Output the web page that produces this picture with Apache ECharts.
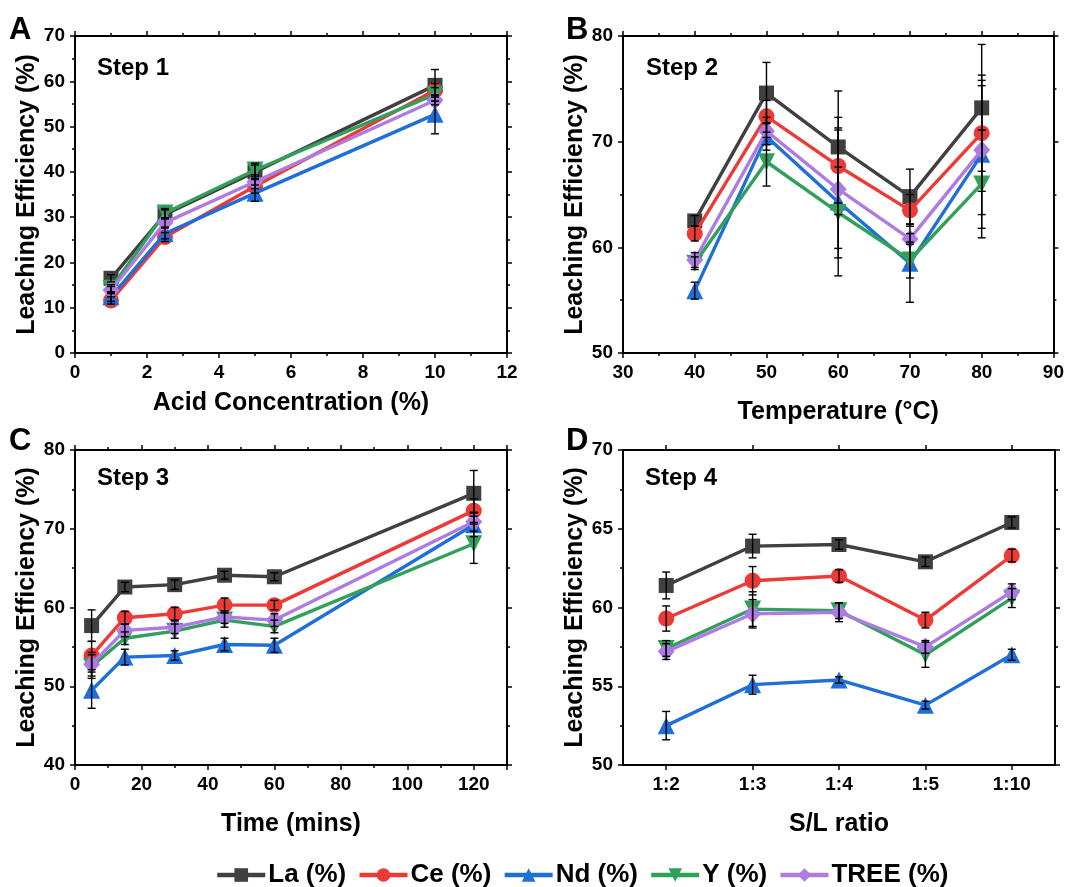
<!DOCTYPE html>
<html>
<head>
<meta charset="utf-8">
<script src="https://cdn.jsdelivr.net/npm/echarts@6/dist/echarts.min.js"></script>
<style>html,body{margin:0;padding:0;background:#fff;}#c{width:1067px;height:887px;}</style>
</head>
<body>
<div id="c"></div>
<script>
// ---------- DATA ----------
const elementNames = ['La (%)', 'Ce (%)', 'Nd (%)', 'Y (%)', 'TREE (%)'];

// Step 1: acid concentration (%)
const acidConc = [1, 2.5, 5, 10];
const step1La   = [16.5, 30.6, 40.0, 59.1];
const step1Ce   = [11.6, 25.6, 36.8, 58.0];
const step1Nd   = [12.4, 26.4, 35.3, 52.7];
const step1Y    = [14.3, 30.9, 40.4, 57.1];
const step1TREE = [13.9, 28.8, 37.8, 55.8];
const step1ErrLa   = [0.8, 1.0, 1.5, 3.5];
const step1ErrCe   = [0.8, 1.0, 1.5, 1.5];
const step1ErrNd   = [1.0, 1.2, 1.8, 4.3];
const step1ErrY    = [0.8, 1.0, 1.5, 1.5];
const step1ErrTREE = [0.8, 1.0, 1.5, 1.0];

// Step 2: temperature (°C)
const temperature = [40, 50, 60, 70, 80];
const step2La   = [62.5, 74.6, 69.5, 64.8, 73.2];
const step2Ce   = [61.3, 72.4, 67.7, 63.5, 70.8];
const step2Nd   = [55.9, 70.5, 64.3, 58.5, 68.8];
const step2Y    = [58.5, 68.1, 63.3, 58.8, 66.0];
const step2TREE = [58.8, 71.0, 65.5, 60.8, 69.2];
const step2ErrLa   = [0.5, 2.9, 5.3, 2.6, 6.0];
const step2ErrCe   = [0.7, 1.5, 4.6, 1.5, 5.5];
const step2ErrNd   = [0.8, 1.3, 7.0, 3.7, 7.0];
const step2ErrY    = [0.6, 2.3, 4.3, 1.7, 5.1];
const step2ErrTREE = [0.7, 1.3, 5.6, 0.5, 6.1];

// Step 3: time (mins)
const timeMins = [5, 15, 30, 45, 60, 120];
const step3La   = [57.7, 62.6, 62.9, 64.1, 63.9, 74.5];
const step3Ce   = [53.9, 58.7, 59.2, 60.3, 60.3, 72.3];
const step3Nd   = [49.5, 53.7, 53.9, 55.3, 55.2, 70.5];
const step3Y    = [52.5, 56.1, 57.0, 58.4, 57.6, 68.1];
const step3TREE = [52.8, 57.1, 57.5, 58.8, 58.4, 70.9];
const step3ErrLa   = [2.0, 0.6, 0.6, 0.5, 0.5, 2.9];
const step3ErrCe   = [1.8, 0.8, 0.8, 0.9, 0.6, 1.5];
const step3ErrNd   = [2.3, 1.0, 0.6, 0.8, 0.9, 1.5];
const step3ErrY    = [1.5, 0.8, 0.9, 0.9, 0.8, 2.5];
const step3ErrTREE = [1.5, 0.8, 0.8, 0.8, 0.8, 1.2];

// Step 4: S/L ratio
const slRatio = ['1:2', '1:3', '1:4', '1:5', '1:10'];
const step4La   = [61.4, 63.9, 64.0, 62.9, 65.4];
const step4Ce   = [59.3, 61.7, 62.0, 59.2, 63.3];
const step4Nd   = [52.5, 55.1, 55.4, 53.8, 57.0];
const step4Y    = [57.4, 59.9, 59.8, 57.0, 60.6];
const step4TREE = [57.2, 59.6, 59.7, 57.5, 61.0];
const step4ErrLa   = [0.85, 0.75, 0.3, 0.3, 0.35];
const step4ErrCe   = [0.8, 0.9, 0.4, 0.5, 0.4];
const step4ErrNd   = [0.9, 0.6, 0.2, 0.25, 0.35];
const step4ErrY    = [0.5, 1.1, 0.5, 0.8, 0.6];
const step4ErrTREE = [0.5, 0.9, 0.6, 0.4, 0.5];

// ---------- STYLE ----------
const FONT = '"Liberation Sans", Arial, sans-serif';
const colors = ['#404040', '#ee3a36', '#1f6fd8', '#31a05b', '#ad7be3'];
const symbols = ['rect', 'circle', 'triangle', 'triangle', 'diamond'];
const symbolRotates = [0, 0, 0, 180, 0];
const symbolSizes = [15, 16, 17, 17, [17, 19]];

const panels = [
  { x: acidConc, vals: [step1La, step1Ce, step1Nd, step1Y, step1TREE], errs: [step1ErrLa, step1ErrCe, step1ErrNd, step1ErrY, step1ErrTREE] },
  { x: temperature, vals: [step2La, step2Ce, step2Nd, step2Y, step2TREE], errs: [step2ErrLa, step2ErrCe, step2ErrNd, step2ErrY, step2ErrTREE] },
  { x: timeMins, vals: [step3La, step3Ce, step3Nd, step3Y, step3TREE], errs: [step3ErrLa, step3ErrCe, step3ErrNd, step3ErrY, step3ErrTREE] },
  { x: null, vals: [step4La, step4Ce, step4Nd, step4Y, step4TREE], errs: [step4ErrLa, step4ErrCe, step4ErrNd, step4ErrY, step4ErrTREE] }
];

const grids = [
  { left: 75, top: 36, width: 432, height: 317 },
  { left: 623, top: 36, width: 432, height: 317 },
  { left: 75, top: 450, width: 432, height: 315 },
  { left: 623, top: 450, width: 432, height: 315 }
];

const axisLineStyle = { show: true, onZero: false, lineStyle: { color: '#000', width: 2 } };
const tickStyle = { show: true, inside: false, length: 5, lineStyle: { color: '#000', width: 1.5 } };
const minorTickStyle = { show: true, splitNumber: 2, length: 3, lineStyle: { color: '#000', width: 1.5 } };
const labelStyle = { color: '#000', fontFamily: FONT, fontWeight: 'bold', fontSize: 19 };
const nameStyle = { color: '#000', fontFamily: FONT, fontWeight: 'bold', fontSize: 25 };

const xSpecs = [
  { type: 'value', min: 0, max: 12, interval: 2, name: 'Acid Concentration (%)', nameGap: 38 },
  { type: 'value', min: 30, max: 90, interval: 10, name: 'Temperature (°C)', nameGap: 47 },
  { type: 'value', min: 0, max: 130, interval: 20, name: 'Time (mins)', nameGap: 47 },
  { type: 'category', data: slRatio, name: 'S/L ratio', nameGap: 47 }
];
const ySpecs = [
  { min: 0, max: 70, interval: 10 },
  { min: 50, max: 80, interval: 10 },
  { min: 40, max: 80, interval: 10 },
  { min: 50, max: 70, interval: 5 }
];

const xAxis = [];
const yAxis = [];
for (let i = 0; i < 4; i++) {
  const s = xSpecs[i];
  const base = {
    gridIndex: i, type: s.type,
    axisLine: axisLineStyle,
    axisTick: s.type === 'category' ? Object.assign({ alignWithLabel: true }, tickStyle) : tickStyle,
    splitLine: { show: false }
  };
  if (s.type === 'category') {
    base.data = s.data; base.boundaryGap = true;
  } else {
    base.min = s.min; base.max = s.max; base.interval = s.interval;
    base.minorTick = minorTickStyle;
  }
  xAxis.push(Object.assign({}, base, {
    position: 'bottom',
    name: s.name, nameLocation: 'middle', nameGap: s.nameGap, nameTextStyle: nameStyle,
    axisLabel: Object.assign({ margin: 10, showMaxLabel: i === 2 ? false : true }, labelStyle)
  }));
}
for (let i = 0; i < 4; i++) {
  const s = xSpecs[i];
  const base = {
    gridIndex: i, type: s.type, position: 'top',
    axisLine: axisLineStyle,
    axisTick: s.type === 'category' ? Object.assign({ alignWithLabel: true }, tickStyle) : tickStyle,
    splitLine: { show: false }, axisLabel: { show: false }
  };
  if (s.type === 'category') { base.data = s.data; base.boundaryGap = true; }
  else { base.min = s.min; base.max = s.max; base.interval = s.interval; base.minorTick = minorTickStyle; }
  xAxis.push(base);
}
for (let i = 0; i < 4; i++) {
  const s = ySpecs[i];
  yAxis.push({
    gridIndex: i, type: 'value', position: 'left', min: s.min, max: s.max, interval: s.interval,
    axisLine: axisLineStyle, axisTick: tickStyle, minorTick: minorTickStyle, splitLine: { show: false },
    axisLabel: Object.assign({ margin: 10 }, labelStyle),
    name: 'Leaching Efficiency (%)', nameLocation: 'middle', nameGap: 33, nameTextStyle: nameStyle
  });
}
for (let i = 0; i < 4; i++) {
  const s = ySpecs[i];
  yAxis.push({
    gridIndex: i, type: 'value', position: 'right', min: s.min, max: s.max, interval: s.interval,
    axisLine: axisLineStyle, axisTick: tickStyle, minorTick: minorTickStyle, splitLine: { show: false },
    axisLabel: { show: false }
  });
}

function renderErr(params, api) {
  const x = api.value(0), y = api.value(1), e = api.value(2);
  const t = api.coord([x, y + e]);
  const b = api.coord([x, y - e]);
  const cap = 4;
  const st = { stroke: '#000', lineWidth: 1.4 };
  return {
    type: 'group',
    children: [
      { type: 'line', shape: { x1: t[0], y1: t[1], x2: b[0], y2: b[1] }, style: st },
      { type: 'line', shape: { x1: t[0] - cap, y1: t[1], x2: t[0] + cap, y2: t[1] }, style: st },
      { type: 'line', shape: { x1: b[0] - cap, y1: b[1], x2: b[0] + cap, y2: b[1] }, style: st }
    ]
  };
}

const series = [];
panels.forEach((p, gi) => {
  p.vals.forEach((vals, si) => {
    const data = p.x ? vals.map((v, k) => [p.x[k], v]) : vals.slice();
    series.push({
      type: 'line', name: elementNames[si], xAxisIndex: gi, yAxisIndex: gi,
      data: data, symbol: symbols[si], symbolSize: symbolSizes[si], symbolRotate: symbolRotates[si],
      showSymbol: true, animation: false, z: 2 + si * 0.01,
      lineStyle: { color: colors[si], width: 3.4 },
      itemStyle: { color: colors[si], borderColor: colors[si], borderWidth: 0 }
    });
  });
});
panels.forEach((p, gi) => {
  p.vals.forEach((vals, si) => {
    const data = vals.map((v, k) => [p.x ? p.x[k] : k, v, p.errs[si][k]]);
    series.push({
      type: 'custom', name: 'err-' + gi + '-' + si, xAxisIndex: gi, yAxisIndex: gi,
      renderItem: renderErr, data: data, z: 10, animation: false, silent: true,
      encode: { x: 0, y: 1 }
    });
  });
});

const stepText = (t, x, y) => ({ type: 'text', left: x, top: y, style: { text: t, font: 'bold 24px ' + FONT, fill: '#000' } });
const panelText = (t, x, y) => ({ type: 'text', left: x, top: y, style: { text: t, font: 'bold 31px ' + FONT, fill: '#000' } });

const option = {
  backgroundColor: '#fff',
  animation: false,
  grid: grids,
  xAxis: xAxis,
  yAxis: yAxis,
  legend: {
    data: elementNames, top: 857, left: 210,
    itemWidth: 48, itemHeight: 17, itemGap: 11,
    lineStyle: { width: 4.5 },
    textStyle: { color: '#000', fontFamily: FONT, fontWeight: 'bold', fontSize: 26, padding: [0, 0, 0, -2] }
  },
  graphic: [
    panelText('A', 9, 15), panelText('B', 566, 15), panelText('C', 9, 426), panelText('D', 566, 426),
    stepText('Step 1', 97, 56), stepText('Step 2', 646, 56), stepText('Step 3', 97, 466), stepText('Step 4', 645, 466)
  ],
  series: series
};

const chart = echarts.init(document.getElementById('c'), null, { renderer: 'canvas' });
chart.setOption(option);
</script>
</body>
</html>
